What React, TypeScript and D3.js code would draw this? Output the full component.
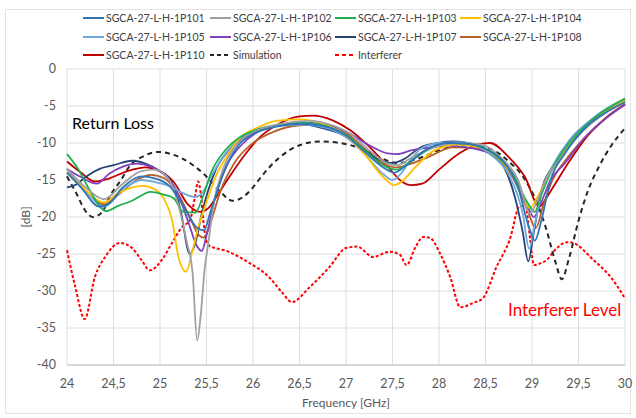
import React from "react";
import * as d3 from "d3";

// axis ticks
const xTicks = [24, 24.5, 25, 25.5, 26, 26.5, 27, 27.5, 28, 28.5, 29, 29.5, 30];
const yTicks = [0, -5, -10, -15, -20, -25, -30, -35, -40];

// [frequency GHz, dB]
const p101 = [
  [24.0, -14.0], [24.15, -16.0], [24.35, -18.6], [24.45, -18.2], [24.6, -16.0], [24.8, -14.5], [24.95, -14.8],
  [25.1, -15.8], [25.25, -18.5], [25.4, -21.5], [25.47, -21.8], [25.55, -19.0], [25.7, -13.5], [25.85, -10.2],
  [26.0, -8.8], [26.25, -7.8], [26.5, -7.4], [26.75, -7.7], [27.0, -9.0], [27.2, -11.2], [27.4, -13.3],
  [27.52, -14.0], [27.65, -13.0], [27.85, -11.0], [28.1, -10.0], [28.3, -10.1], [28.5, -10.8], [28.7, -12.6],
  [28.85, -16.0], [28.97, -21.5], [29.03, -23.2], [29.1, -20.5], [29.2, -15.0], [29.35, -11.5], [29.6, -7.6],
  [29.8, -5.8], [30.0, -4.5],
];
const p102 = [
  [24.0, -13.5], [24.2, -16.0], [24.4, -17.6], [24.6, -15.5], [24.8, -13.8], [24.95, -13.6], [25.1, -15.0],
  [25.2, -18.5], [25.29, -23.5], [25.35, -27.5], [25.4, -36.7], [25.44, -33.0], [25.48, -27.0], [25.52, -23.5],
  [25.58, -18.0], [25.67, -13.8], [25.8, -10.6], [26.0, -8.6], [26.3, -7.4], [26.6, -7.0], [26.85, -7.6],
  [27.05, -8.8], [27.25, -11.0], [27.45, -12.8], [27.55, -13.0], [27.7, -12.0], [27.9, -10.8], [28.2, -10.0],
  [28.45, -10.2], [28.65, -11.8], [28.85, -15.0], [28.98, -19.5], [29.05, -18.0], [29.15, -15.0], [29.3, -12.2],
  [29.5, -9.0], [29.75, -6.3], [30.0, -4.5],
];
const p103 = [
  [24.0, -11.5], [24.12, -13.5], [24.25, -16.5], [24.42, -19.2], [24.55, -18.5], [24.7, -17.8], [24.9, -16.6],
  [25.05, -17.0], [25.15, -17.5], [25.25, -19.3], [25.38, -19.4], [25.46, -17.3], [25.55, -14.0], [25.7, -11.0],
  [25.85, -9.3], [26.0, -8.4], [26.3, -7.5], [26.55, -7.3], [26.8, -7.8], [27.0, -8.9], [27.2, -11.0],
  [27.4, -13.0], [27.55, -13.6], [27.7, -12.4], [27.9, -10.8], [28.15, -10.0], [28.4, -10.3], [28.6, -11.6],
  [28.8, -14.3], [28.95, -18.0], [29.03, -19.3], [29.1, -17.0], [29.22, -13.5], [29.4, -10.0], [29.65, -6.8],
  [30.0, -4.0],
];
const p104 = [
  [24.0, -14.0], [24.15, -15.8], [24.4, -18.0], [24.55, -16.8], [24.7, -16.0], [24.82, -15.8], [24.95, -16.3],
  [25.05, -17.7], [25.13, -20.4], [25.2, -25.5], [25.28, -27.4], [25.35, -24.5], [25.42, -21.0], [25.5, -18.0],
  [25.6, -14.5], [25.7, -12.2], [25.86, -9.3], [26.05, -7.9], [26.25, -7.0], [26.5, -6.8], [26.75, -7.4],
  [27.0, -9.0], [27.2, -11.5], [27.4, -14.6], [27.52, -15.7], [27.6, -15.2], [27.75, -13.2], [27.95, -11.0],
  [28.2, -10.2], [28.45, -10.6], [28.65, -12.2], [28.85, -15.5], [28.98, -18.8], [29.05, -17.5], [29.15, -15.0],
  [29.27, -12.5], [29.45, -9.5], [29.7, -6.5], [30.0, -4.3],
];
const p105 = [
  [24.0, -13.5], [24.2, -16.5], [24.4, -18.6], [24.6, -16.3], [24.8, -15.0], [24.95, -15.3], [25.1, -15.8],
  [25.25, -16.8], [25.38, -17.3], [25.45, -16.8], [25.55, -14.5], [25.7, -11.5], [25.85, -9.5], [26.0, -8.5],
  [26.3, -7.6], [26.55, -7.5], [26.8, -8.0], [27.0, -9.2], [27.2, -11.5], [27.4, -14.2], [27.5, -15.0],
  [27.6, -14.0], [27.7, -12.2], [27.8, -10.8], [28.0, -10.0], [28.2, -9.9], [28.4, -10.4], [28.6, -12.0],
  [28.76, -14.5], [28.9, -19.5], [28.97, -24.3], [29.03, -21.0], [29.12, -16.0], [29.25, -12.5], [29.45, -9.0],
  [29.7, -6.2], [30.0, -4.0],
];
const p106 = [
  [24.0, -13.5], [24.15, -14.6], [24.32, -15.5], [24.45, -14.2], [24.6, -13.2], [24.75, -12.8], [24.9, -13.2],
  [25.05, -14.3], [25.18, -16.5], [25.3, -20.5], [25.4, -24.0], [25.45, -24.6], [25.5, -22.5], [25.6, -17.0],
  [25.72, -13.0], [25.88, -10.2], [26.05, -8.5], [26.3, -7.6], [26.6, -7.3], [26.85, -7.7], [27.05, -8.8],
  [27.25, -10.3], [27.45, -11.4], [27.55, -11.5], [27.7, -11.0], [27.9, -10.6], [28.1, -10.4], [28.35, -10.7],
  [28.6, -11.8], [28.8, -14.3], [28.95, -18.5], [29.02, -20.0], [29.1, -18.0], [29.2, -15.0], [29.35, -12.8],
  [29.55, -9.5], [29.8, -6.6], [30.0, -4.8],
];
const p107 = [
  [24.0, -16.0], [24.1, -15.6], [24.2, -14.6], [24.35, -13.5], [24.5, -13.0], [24.7, -12.4], [24.85, -12.8],
  [25.0, -13.8], [25.12, -15.2], [25.22, -19.0], [25.32, -25.0], [25.38, -23.5], [25.45, -19.5], [25.6, -13.6],
  [25.78, -10.5], [25.95, -8.9], [26.1, -8.0], [26.5, -7.4], [26.75, -8.0], [26.95, -8.8], [27.15, -10.5],
  [27.35, -12.2], [27.5, -12.7], [27.62, -12.2], [27.8, -10.6], [28.0, -10.0], [28.15, -9.8], [28.4, -10.3],
  [28.55, -11.5], [28.7, -13.3], [28.82, -17.5], [28.9, -22.0], [28.96, -26.0], [29.02, -22.0], [29.1, -16.5],
  [29.23, -13.0], [29.4, -9.7], [29.65, -6.8], [29.85, -5.3], [30.0, -4.3],
];
const p108 = [
  [24.0, -13.5], [24.2, -16.5], [24.4, -18.3], [24.55, -17.0], [24.75, -15.0], [24.9, -14.3], [25.05, -14.8],
  [25.2, -17.0], [25.32, -20.0], [25.42, -22.5], [25.47, -22.8], [25.55, -20.5], [25.65, -16.5], [25.8, -12.7],
  [26.0, -10.0], [26.2, -8.6], [26.5, -7.6], [26.75, -7.5], [27.0, -8.6], [27.2, -10.8], [27.4, -12.8],
  [27.55, -13.3], [27.7, -12.8], [27.9, -11.8], [28.15, -10.6], [28.4, -10.7], [28.6, -11.8], [28.8, -14.8],
  [28.95, -19.0], [29.04, -21.5], [29.12, -18.5], [29.22, -15.0], [29.35, -12.5], [29.55, -9.5], [29.8, -6.5],
  [30.0, -4.7],
];
const p110 = [
  [24.0, -12.5], [24.15, -14.0], [24.3, -15.2], [24.45, -14.8], [24.65, -13.8], [24.85, -13.3], [25.0, -13.8],
  [25.15, -15.3], [25.3, -18.3], [25.43, -19.3], [25.52, -18.8], [25.62, -17.0], [25.75, -14.5], [25.9, -11.8],
  [26.05, -9.5], [26.25, -7.6], [26.5, -6.4], [26.65, -6.3], [26.85, -6.9], [27.05, -8.3], [27.25, -10.5],
  [27.45, -13.2], [27.6, -15.2], [27.7, -15.7], [27.82, -15.5], [28.0, -13.6], [28.22, -11.4], [28.42, -10.2],
  [28.55, -10.0], [28.75, -11.9], [28.92, -14.5], [29.08, -18.6], [29.15, -17.5], [29.25, -15.5], [29.4, -12.5],
  [29.6, -9.0], [29.8, -6.6], [30.0, -4.8],
];
const simulation = [
  [24.0, -14.5], [24.1, -16.8], [24.2, -19.2], [24.28, -20.0], [24.38, -19.3], [24.46, -17.2], [24.58, -15.0],
  [24.68, -13.0], [24.82, -11.8], [24.98, -11.2], [25.12, -11.5], [25.27, -12.3], [25.48, -14.3], [25.65, -16.6],
  [25.78, -17.8], [25.88, -17.4], [26.0, -16.0], [26.08, -14.7], [26.29, -11.9], [26.5, -10.3], [26.72, -9.8],
  [26.94, -10.0], [27.15, -10.7], [27.37, -12.0], [27.55, -12.7], [27.75, -12.2], [28.0, -11.0], [28.3, -10.3],
  [28.55, -10.8], [28.75, -12.5], [28.9, -14.5], [29.05, -18.0], [29.15, -21.5], [29.25, -26.0], [29.32, -28.4],
  [29.4, -25.5], [29.5, -20.5], [29.6, -16.5], [29.72, -13.2], [29.85, -10.4], [30.0, -8.0],
];
const interferer = [
  [24.0, -24.5], [24.09, -29.5], [24.19, -33.8], [24.3, -28.1], [24.41, -25.4], [24.57, -23.5], [24.7, -24.2],
  [24.8, -25.8], [24.89, -27.2], [25.02, -25.8], [25.13, -23.5], [25.24, -21.3], [25.32, -20.5], [25.38, -17.0],
  [25.41, -15.2], [25.44, -17.0], [25.47, -21.0], [25.52, -23.8], [25.74, -24.7], [25.96, -26.2], [26.17, -28.1],
  [26.3, -30.0], [26.42, -31.5], [26.6, -29.6], [26.82, -26.8], [27.0, -24.2], [27.12, -24.0], [27.29, -25.4],
  [27.47, -24.7], [27.58, -25.1], [27.65, -26.5], [27.75, -24.0], [27.83, -22.7], [27.9, -22.8], [28.01, -24.9],
  [28.12, -28.1], [28.23, -32.2], [28.37, -31.6], [28.47, -31.0], [28.62, -26.7], [28.76, -23.1], [28.87, -18.5],
  [28.93, -18.5], [28.98, -23.0], [29.02, -26.5], [29.1, -26.2], [29.16, -25.8], [29.23, -24.7], [29.38, -23.4],
  [29.44, -23.5], [29.66, -25.8], [29.87, -28.5], [30.0, -31.0],
];

const series = [
  { name: "SGCA-27-L-H-1P101", color: "#2e75b6", data: p101 },
  { name: "SGCA-27-L-H-1P102", color: "#a0a0a0", data: p102 },
  { name: "SGCA-27-L-H-1P103", color: "#1fb150", data: p103 },
  { name: "SGCA-27-L-H-1P104", color: "#ffc000", data: p104 },
  { name: "SGCA-27-L-H-1P105", color: "#6fa8dc", data: p105 },
  { name: "SGCA-27-L-H-1P106", color: "#7f3fbf", data: p106 },
  { name: "SGCA-27-L-H-1P107", color: "#264478", data: p107 },
  { name: "SGCA-27-L-H-1P108", color: "#b5602a", data: p108 },
  { name: "SGCA-27-L-H-1P110", color: "#c00000", data: p110 },
  { name: "Simulation", color: "#262626", data: simulation, dash: "5,4" },
  { name: "Interferer", color: "#ff0000", data: interferer, dash: "3,2" },
];

const width = 636;
const height = 418;
const margin = { top: 69, right: 11, bottom: 53, left: 67 };
const font = "Lato, 'Open Sans', sans-serif";

export default function App() {
  const x = d3.scaleLinear().domain([24, 30]).range([margin.left, width - margin.right]);
  const y = d3.scaleLinear().domain([-40, 0]).range([height - margin.bottom, margin.top]);
  const line = d3
    .line<number[]>()
    .x((d) => x(d[0]))
    .y((d) => y(d[1]))
    .curve(d3.curveMonotoneX);

  const legendCols = [83, 210, 335, 460];
  const legendRows = [18, 37, 55];

  return (
    <svg
      width={width}
      height={height}
      style={{ position: "absolute", left: 0, top: 0, background: "#fff" }}
      fontFamily={font}
    >
      <rect x={5.5} y={9.5} width={625} height={404} fill="none" stroke="#e4e4e4" />

      {/* grid */}
      {yTicks.map((t) => (
        <line key={"gy" + t} x1={x(24)} x2={x(30)} y1={y(t)} y2={y(t)} stroke="#dedede" />
      ))}
      {xTicks.map((t) => (
        <line key={"gx" + t} x1={x(t)} x2={x(t)} y1={y(0)} y2={y(-40)} stroke="#dedede" />
      ))}
      <line x1={x(24)} x2={x(30)} y1={y(-40)} y2={y(-40)} stroke="#bfbfbf" />

      {/* tick labels */}
      {yTicks.map((t) => (
        <text key={"ly" + t} x={56} y={y(t) + 4} textAnchor="end" fontSize={12.5} fill="#595959">
          {t}
        </text>
      ))}
      {xTicks.map((t) => (
        <text key={"lx" + t} x={x(t)} y={388} textAnchor="middle" fontSize={12.5} fill="#595959">
          {String(t).replace(".", ",")}
        </text>
      ))}
      <text x={346} y={407} textAnchor="middle" fontSize={12} fill="#595959">
        Frequency [GHz]
      </text>
      <text transform={`translate(30,${y(-20)}) rotate(-90)`} textAnchor="middle" fontSize={12} fill="#595959">
        [dB]
      </text>

      {/* curves */}
      {series
        .slice()
        .reverse()
        .map((s) => (
          <path
            key={s.name}
            d={line(s.data) || ""}
            fill="none"
            stroke={s.color}
            strokeWidth={s.dash ? 2 : 1.8}
            strokeDasharray={s.dash}
          />
        ))}

      <text x={72} y={129} fontSize={16} fill="#000">
        Return Loss
      </text>
      <text x={508} y={316} fontSize={17} fill="#ff0000">
        Interferer Level
      </text>

      {/* legend */}
      {series.map((s, i) => {
        const cx = legendCols[i % 4];
        const cy = legendRows[Math.floor(i / 4)];
        return (
          <g key={"lg" + s.name}>
            <line x1={cx} x2={cx + 21} y1={cy} y2={cy} stroke={s.color} strokeWidth={2} strokeDasharray={s.dash ? "4,3" : undefined} />
            <text x={cx + 23} y={cy + 3.5} fontSize={10.5} fill="#404040">
              {s.name}
            </text>
          </g>
        );
      })}
    </svg>
  );
}
